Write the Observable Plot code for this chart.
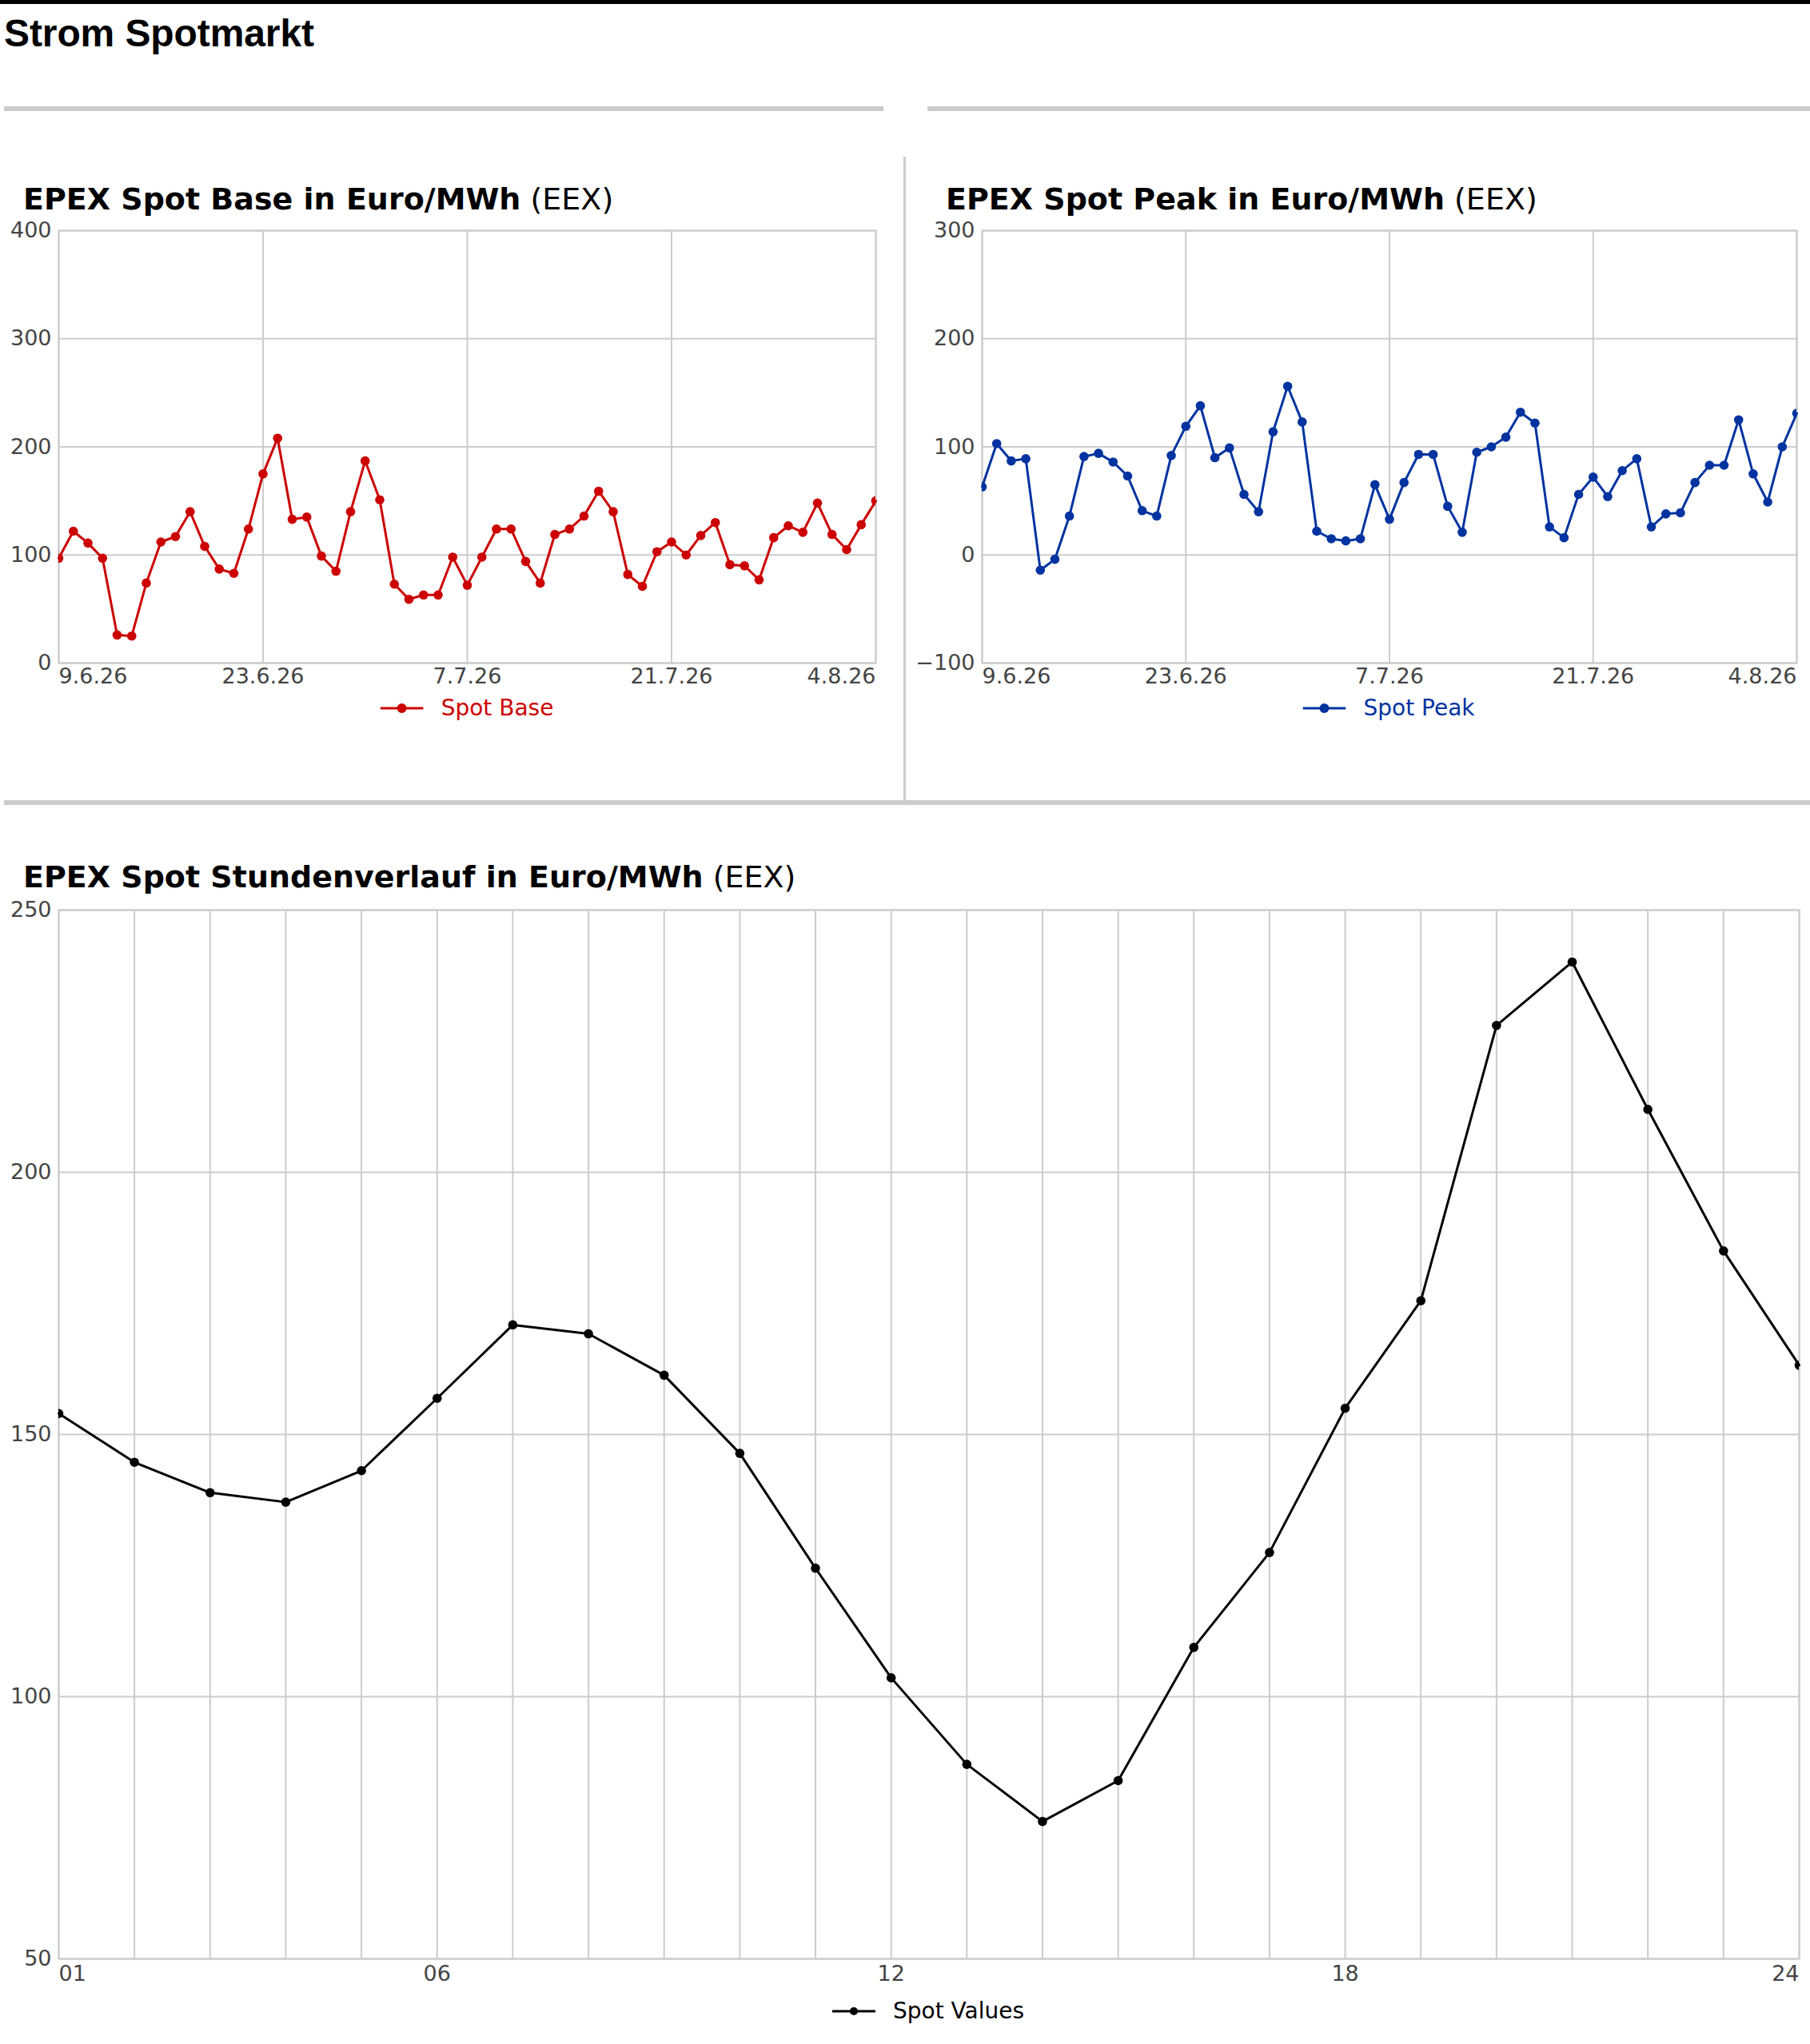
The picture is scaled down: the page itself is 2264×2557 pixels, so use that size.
<!DOCTYPE html>
<html>
<head>
<meta charset="utf-8">
<script src="https://cdn.jsdelivr.net/npm/d3@7"></script>
<script src="https://cdn.jsdelivr.net/npm/@observablehq/plot@0.6"></script>
<style>
  html, body { margin: 0; padding: 0; background: #fff; }
  #page { position: relative; width: 2264px; height: 2557px; overflow: hidden; font-family: "DejaVu Sans", sans-serif; background: #fff; }
  .abs { position: absolute; }
  .bar { position: absolute; background: #cccccc; }
  .title { position: absolute; font-family: "DejaVu Sans", sans-serif; font-size: 38px; line-height: 38px; white-space: nowrap; color: #000; }
  .title b { font-weight: bold; }
  .legend { position: absolute; display: flex; align-items: center; transform: translateX(-50%); font-family: "DejaVu Sans", sans-serif; font-size: 28px; line-height: 34px; white-space: nowrap; }
  .legend svg { display: block; margin-right: 22px; }
</style>
</head>
<body>
<div id="page"></div>
<script>
// ---------- DATA ----------
const dateTicks = ["2026-06-09", "2026-06-23", "2026-07-07", "2026-07-21", "2026-08-04"];
const baseValues = [97,122,111,97,26,25,74,112,117,140,108,87,83,124,175,208,133,135,99,85,140,187,151,73,59,63,63,98,72,98,124,124,94,74,119,124,136,159,140,82,71,103,112,100,118,130,91,90,77,116,127,121,148,119,105,128,150];
const peakValues = [63,103,87,89,-14,-4,36,91,94,86,73,41,36,92,119,138,90,99,56,40,114,156,123,22,15,13,15,65,33,67,93,93,45,21,95,100,109,132,122,26,16,56,72,54,78,89,26,38,39,67,83,83,125,75,49,100,131];
const baseTicksY = [0, 100, 200, 300, 400];
const peakTicksY = [-100, 0, 100, 200, 300];
const hours = [1,2,3,4,5,6,7,8,9,10,11,12,13,14,15,16,17,18,19,20,21,22,23,24];
const hourlyValues = [154,144.7,138.9,137.1,143.1,156.9,170.9,169.2,161.3,146.4,124.5,103.6,87.1,76.2,84,109.4,127.5,155,175.5,228,240.1,212,185,163.2];
const hourTicks = [1, 6, 12, 18, 24];
const hourTicksY = [50, 100, 150, 200, 250];

const colorBase = "#cc0000";
const colorPeak = "#0033a0";
const colorHours = "#000000";

// ---------- HELPERS ----------
const page = document.getElementById("page");
function box(cls, css, html) {
  const d = document.createElement("div");
  d.className = cls;
  Object.assign(d.style, css);
  if (html) d.innerHTML = html;
  page.appendChild(d);
  return d;
}
const parseDay = d3.utcParse("%Y-%m-%d");
const dayLabel = d => `${d.getUTCDate()}.${d.getUTCMonth() + 1}.${String(d.getUTCFullYear()).slice(2)}`;
const grid = {stroke: "#cccccc", strokeOpacity: 1, strokeWidth: 2};
const tickFont = 27;

function dailyChart(values, color, yDomain, yTicks, m) {
  const ticks = dateTicks.map(parseDay);
  const start = ticks[0];
  const dates = d3.utcDay.range(start, d3.utcDay.offset(start, values.length));
  const data = values.map((v, i) => ({date: dates[i], value: v}));
  const ax = {tickSize: 0, tickPadding: 6, tickFormat: dayLabel, fontSize: tickFont, label: null};
  return Plot.plot({
    width: m.width, height: m.height,
    marginLeft: m.left, marginRight: m.right, marginTop: m.top, marginBottom: m.bottom,
    x: {type: "utc", domain: [ticks[0], ticks[ticks.length - 1]], label: null},
    y: {domain: yDomain, label: null},
    style: {fontFamily: "DejaVu Sans, sans-serif", fontSize: tickFont + "px", color: "#444", background: "transparent", overflow: "visible"},
    marks: [
      Plot.gridY(yTicks, grid),
      Plot.gridX(ticks, grid),
      Plot.frame({stroke: "#cccccc", strokeWidth: 2}),
      Plot.axisY(yTicks, {tickSize: 0, tickPadding: 9, fontSize: tickFont, label: null}),
      Plot.axisX([ticks[0]], {...ax, textAnchor: "start"}),
      Plot.axisX(ticks.slice(1, -1), {...ax, textAnchor: "middle"}),
      Plot.axisX([ticks[ticks.length - 1]], {...ax, textAnchor: "end"}),
      Plot.line(data, {x: "date", y: "value", stroke: color, strokeWidth: 3}),
      Plot.dot(data, {x: "date", y: "value", fill: color, r: 5.8, clip: true})
    ]
  });
}

function hourlyChart(m) {
  const data = hours.map((h, i) => ({hour: h, value: hourlyValues[i]}));
  const fmt = d3.format("02d");
  const ax = {tickSize: 0, tickPadding: 8, tickFormat: fmt, fontSize: tickFont, label: null};
  return Plot.plot({
    width: m.width, height: m.height,
    marginLeft: m.left, marginRight: m.right, marginTop: m.top, marginBottom: m.bottom,
    x: {domain: [hours[0], hours[hours.length - 1]], label: null},
    y: {domain: [hourTicksY[0], hourTicksY[hourTicksY.length - 1]], label: null},
    style: {fontFamily: "DejaVu Sans, sans-serif", fontSize: tickFont + "px", color: "#444", background: "transparent", overflow: "visible"},
    marks: [
      Plot.gridY(hourTicksY, grid),
      Plot.gridX(hours, grid),
      Plot.frame({stroke: "#cccccc", strokeWidth: 2}),
      Plot.axisY(hourTicksY, {tickSize: 0, tickPadding: 9, fontSize: tickFont, label: null}),
      Plot.axisX([hourTicks[0]], {...ax, textAnchor: "start"}),
      Plot.axisX(hourTicks.slice(1, -1), {...ax, textAnchor: "middle"}),
      Plot.axisX([hourTicks[hourTicks.length - 1]], {...ax, textAnchor: "end"}),
      Plot.line(data, {x: "hour", y: "value", stroke: colorHours, strokeWidth: 3}),
      Plot.dot(data, {x: "hour", y: "value", fill: colorHours, r: 5.8, clip: true})
    ]
  });
}

function legend(cx, cy, color, label, r, sw) {
  const svg = `<svg width="54" height="16" viewBox="0 0 54 16"><line x1="0" x2="54" y1="8" y2="8" stroke="${color}" stroke-width="${sw}"/><circle cx="27" cy="8" r="${r}" fill="${color}"/></svg>`;
  box("legend", {left: cx + "px", top: (cy - 17) + "px", color: color}, svg + `<span>${label}</span>`);
}

// ---------- LAYOUT ----------
box("abs", {left: "0px", top: "0px", width: "2264px", height: "5px", background: "#000"});
box("abs", {left: "5px", top: "18px", fontFamily: "'Liberation Sans', Arial, sans-serif", fontWeight: "bold", fontSize: "48px", lineHeight: "48px", whiteSpace: "nowrap", color: "#000", letterSpacing: "-0.1px"}, "Strom Spotmarkt");

box("bar", {left: "5px", top: "133px", width: "1100px", height: "6px"});
box("bar", {left: "1160px", top: "133px", width: "1104px", height: "6px"});
box("bar", {left: "1130px", top: "196px", width: "3px", height: "805px"});
box("bar", {left: "5px", top: "1001px", width: "2259px", height: "6px"});

box("title", {left: "29px", top: "230px"}, "<b>EPEX Spot Base in Euro/MWh</b> (EEX)");
box("title", {left: "1183px", top: "230px"}, "<b>EPEX Spot Peak in Euro/MWh</b> (EEX)");
box("title", {left: "29px", top: "1078px"}, "<b>EPEX Spot Stundenverlauf in Euro/MWh</b> (EEX)");

const c1 = box("abs", {left: "0px", top: "268px", width: "1130px", height: "601px"});
c1.appendChild(dailyChart(baseValues, colorBase, [0, 400], baseTicksY, {width: 1130, height: 601, left: 73, right: 35, top: 20, bottom: 40}));
legend(584, 886, colorBase, "Spot Base", 6, 3);

const c2 = box("abs", {left: "1133px", top: "268px", width: "1131px", height: "601px"});
c2.appendChild(dailyChart(peakValues, colorPeak, [-100, 300], peakTicksY, {width: 1131, height: 601, left: 95, right: 17, top: 20, bottom: 40}));
legend(1737, 886, colorPeak, "Spot Peak", 6, 3);

const c3 = box("abs", {left: "0px", top: "1120px", width: "2264px", height: "1370px"});
c3.appendChild(hourlyChart({width: 2264, height: 1370, left: 73, right: 14, top: 18, bottom: 40}));
legend(1161, 2516, colorHours, "Spot Values", 5, 3);
</script>
</body>
</html>
